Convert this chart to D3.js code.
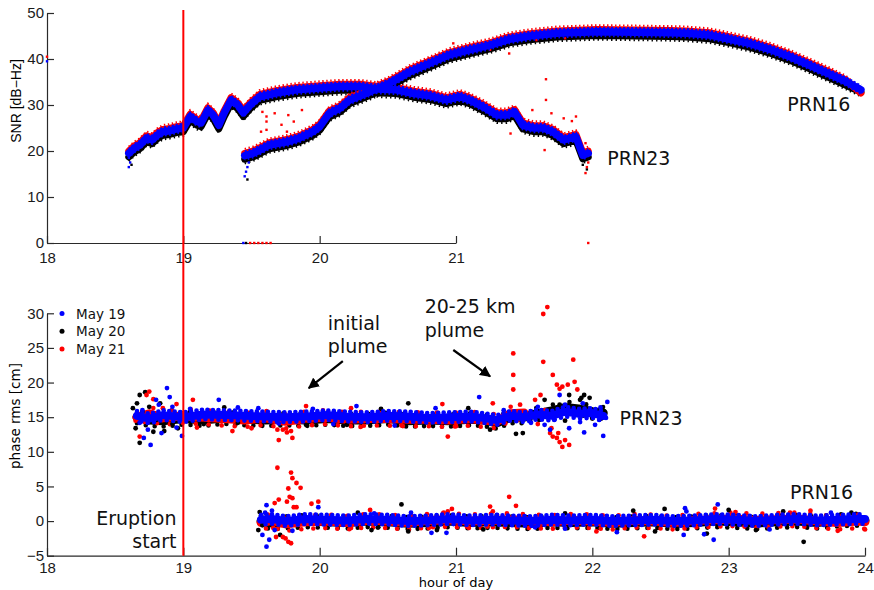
<!DOCTYPE html>
<html lang="en">
<head>
<meta charset="UTF-8">
<title>SNR and phase rms, PRN16 / PRN23</title>
<script src="https://d3js.org/d3.v7.min.js"></script>
<style>
  body { margin: 0; background: #fff; }
  .tick text { font-family: "Liberation Sans", Arial, sans-serif; font-size: 15px; fill: #1a1a1a; }
  .domain, .tick line { stroke: #2a2a2a; stroke-width: 1.2px; }
  .note { font-family: "DejaVu Sans", sans-serif; font-size: 19px; fill: #111; }
  .band { fill: none; stroke-linejoin: round; }
</style>
</head>
<body>
<svg id="chart" width="874" height="590"></svg>
<script>
// ---- top panel: SNR [dB-Hz] ----
const t23 = [18.60, 18.64, 18.68, 18.73, 18.77, 18.81, 18.85, 18.90, 18.95, 19.00, 19.05, 19.10, 19.13, 19.18, 19.22, 19.26, 19.30, 19.35, 19.40, 19.44, 19.49, 19.56, 19.68, 19.83, 20.00, 20.15, 20.30, 20.45, 20.56, 20.69, 20.81, 20.93, 21.03, 21.10, 21.20, 21.30, 21.37, 21.43, 21.49, 21.57, 21.64, 21.71, 21.79, 21.88, 21.93, 21.97];
const snr23Blue = [19.5, 20.6, 21.3, 22.8, 22.4, 23.5, 24.2, 24.4, 24.8, 25.0, 27.5, 26.4, 26.1, 28.9, 27.8, 25.6, 28.3, 31.1, 30.0, 28.3, 30.0, 31.8, 32.6, 33.3, 33.7, 34.0, 34.0, 33.4, 33.3, 32.5, 32.0, 31.1, 31.8, 31.1, 29.6, 27.8, 27.8, 28.5, 25.6, 25.0, 25.0, 24.2, 22.4, 23.1, 19.1, 19.5];
const snr23Red = [20.0, 21.1, 21.8, 23.3, 22.9, 24.0, 24.7, 24.9, 25.3, 25.5, 28.0, 26.9, 26.6, 29.4, 28.3, 26.1, 28.8, 31.6, 30.5, 28.8, 30.5, 32.3, 33.1, 33.8, 34.2, 34.5, 34.5, 33.9, 33.8, 33.0, 32.5, 31.6, 32.3, 31.6, 30.1, 28.3, 28.3, 29.0, 26.1, 25.5, 25.5, 24.7, 22.9, 23.6, 19.6, 20.0];
const snr23Black = [18.7, 19.8, 20.5, 22.0, 21.6, 22.7, 23.4, 23.6, 24.0, 24.2, 26.7, 25.6, 25.3, 28.1, 27.0, 24.8, 27.5, 30.3, 29.2, 27.5, 29.2, 31.0, 31.8, 32.5, 32.9, 33.2, 33.2, 32.6, 32.5, 31.7, 31.2, 30.3, 31.0, 30.3, 28.8, 27.0, 27.0, 27.7, 24.8, 24.2, 24.2, 23.4, 21.6, 22.3, 18.3, 18.7];

const t16 = [19.45, 19.51, 19.56, 19.63, 19.76, 19.85, 19.95, 20.00, 20.07, 20.15, 20.22, 20.37, 20.51, 20.66, 20.81, 20.95, 21.10, 21.25, 21.39, 21.54, 21.74, 22.03, 22.32, 22.57, 22.69, 22.86, 23.01, 23.15, 23.30, 23.45, 23.59, 23.74, 23.86, 23.97];
const snr16Blue = [19.0, 19.5, 20.2, 21.3, 22.0, 22.8, 24.2, 25.3, 28.2, 29.3, 31.1, 32.9, 34.7, 37.2, 39.1, 40.9, 42.0, 43.0, 44.3, 45.0, 45.6, 45.9, 45.8, 45.7, 45.6, 45.2, 44.3, 43.4, 42.1, 40.5, 38.7, 36.7, 35.1, 33.3];
const snr16Red = [19.5, 20.0, 20.7, 21.8, 22.5, 23.3, 24.7, 25.8, 28.7, 29.8, 31.6, 33.4, 35.2, 37.7, 39.6, 41.4, 42.5, 43.5, 44.8, 45.5, 46.1, 46.4, 46.3, 46.2, 46.1, 45.7, 44.8, 43.9, 42.6, 41.0, 39.2, 37.2, 35.4, 32.6];
const snr16Black = [18.2, 18.7, 19.4, 20.5, 21.2, 22.0, 23.4, 24.5, 27.4, 28.5, 30.3, 32.1, 33.9, 36.4, 38.3, 40.1, 41.2, 42.2, 43.5, 44.2, 44.8, 45.1, 45.0, 44.9, 44.8, 44.4, 43.5, 42.6, 41.3, 39.7, 37.9, 35.9, 34.3, 32.8];

const snrDotsRed = [[18.0, 40.5], [19.49, 0], [19.52, 0], [19.55, 0], [19.58, 0], [19.61, 0], [19.64, 0], [21.97, 0], [19.61, 26.4], [19.67, 28.2], [19.77, 27.8], [19.87, 28.9], [19.61, 24.6], [19.57, 24.2], [19.72, 25.7], [19.76, 24.2], [19.81, 26.4], [19.61, 27.5], [19.58, 28.5], [21.66, 35.6], [21.66, 31.1], [21.56, 28.9], [21.70, 28.2], [21.79, 27.1], [21.88, 27.5], [21.85, 26.5], [21.64, 26.0], [21.65, 20.2], [21.40, 23.8], [21.95, 21.7], [21.95, 15.2], [21.39, 41.2], [21.25, 42.0], [21.59, 44.1], [21.80, 44.5], [20.98, 43.4], [21.96, 16.5], [21.97, 17.5]];
const snrDotsBlue = [[18.0, 39.5], [19.44, 0], [19.45, 14.5], [19.46, 15.5], [19.47, 16.5], [19.48, 17.5], [18.60, 16.5], [18.61, 17.5], [18.60, 18.5]];
const snrDotsBlack = [[19.46, 0], [19.47, 13.8], [18.62, 17.0], [21.93, 17.0], [21.96, 16.0]];

// ---- bottom panel: phase rms [cm] ----
const t23b = [18.66, 18.75, 18.85, 19.0, 19.15, 19.3, 19.45, 19.6, 19.75, 19.9, 20.05, 20.2, 20.35, 20.5, 20.65, 20.8, 20.95, 21.1, 21.2, 21.3, 21.4, 21.5, 21.6, 21.7, 21.8, 21.9, 22.0, 22.08];
const ph23Blue = [15.2, 14.8, 15.3, 15.0, 15.4, 15.3, 15.2, 15.1, 15.0, 15.1, 15.3, 15.1, 15.0, 15.2, 15.1, 14.9, 15.0, 15.1, 14.9, 14.6, 15.2, 15.0, 15.4, 15.2, 15.8, 15.5, 15.6, 15.2];
const ph23Black = [15.0, 14.6, 14.5, 14.8, 14.6, 14.9, 14.7, 14.6, 14.7, 14.6, 14.8, 14.6, 14.6, 14.8, 14.5, 14.6, 14.5, 14.7, 14.6, 14.2, 15.0, 15.0, 15.5, 15.9, 16.4, 16.2, 15.8, 15.6];
const ph23Red = [15.0, 15.5, 14.9, 15.2, 15.0, 14.8, 14.6, 14.9, 14.4, 14.8, 15.0, 14.7, 14.8, 14.8, 14.7, 14.7, 14.6, 14.8, 14.6, 14.4, 15.5, 15.6];

const t16b = [19.57, 19.65, 19.75, 19.9, 20.05, 20.2, 20.35, 20.5, 20.65, 20.8, 20.95, 21.1, 21.25, 21.4, 21.55, 21.7, 21.85, 22.0, 22.15, 22.3, 22.45, 22.6, 22.75, 22.9, 23.05, 23.2, 23.35, 23.5, 23.65, 23.8, 23.95, 24.0];
const ph16Blue = [0.2, 0.3, 0.0, 0.3, 0.2, 0.1, 0.3, 0.2, 0.0, 0.1, 0.3, 0.1, 0.2, 0.1, 0.0, 0.2, 0.1, 0.2, 0.0, 0.1, 0.2, 0.0, 0.1, 0.3, 0.2, 0.0, 0.2, 0.3, 0.1, 0.2, 0.3, 0.3];
const ph16Black = [0.0, -0.3, -0.2, 0.0, -0.1, -0.2, 0.0, -0.1, -0.3, -0.2, 0.0, -0.2, -0.1, -0.2, -0.3, -0.1, -0.2, -0.1, -0.3, -0.2, -0.1, -0.3, -0.2, 0.0, -0.1, -0.3, -0.1, 0.0, -0.2, 0.1, 0.2, 0.1];
const ph16Red = [-0.2, 0.1, -0.4, -0.1, 0.0, -0.2, 0.1, 0.0, -0.2, 0.1, 0.2, 0.0, 0.1, 0.2, 0.0, -0.1, 0.1, 0.0, -0.2, 0.1, 0.0, -0.2, 0.1, 0.2, 0.3, 0.1, 0.2, 0.3, 0.0, -0.2, 0.0, -0.1];

const phDotsBlue = [[18.88, 19.2], [18.90, 17.9], [18.76, 11.0], [18.71, 12.0], [18.84, 12.7], [18.99, 12.3], [19.26, 17.5], [18.80, 17.5], [18.95, 13.5], [18.68, 14.2], [18.74, 13.2], [18.82, 16.8], [18.70, 16.0], [18.92, 16.5], [19.05, 16.2], [19.40, 16.4], [19.55, 16.3], [19.95, 16.2],
  [20.27, 16.6], [21.17, 17.9], [20.55, 13.8], [20.85, 16.3], [21.35, 16.0], [20.1, 14.0], [19.7, 14.1],
  [22.11, 17.2], [22.08, 12.3], [21.94, 12.8], [21.80, 16.8], [21.87, 15.3], [21.98, 16.0], [22.05, 14.6], [22.02, 13.9], [21.72, 14.6], [21.65, 13.9], [21.76, 18.2], [22.04, 15.5], [22.10, 14.9], [21.83, 13.4], [21.91, 14.3], [21.69, 13.2], [21.60, 16.5], [21.55, 14.2], [21.93, 17.0], [22.06, 16.4],
  [19.61, -3.7], [19.61, 2.3], [19.58, -2.0], [19.63, -2.7], [19.67, -1.3], [19.60, 1.2], [19.65, 1.5], [19.99, 2.0], [20.67, 1.2], [20.82, -1.7], [20.93, -1.7], [21.30, 0.9], [21.58, -0.9], [22.18, -1.6], [22.67, -2.0], [22.68, 1.85], [22.69, 1.4], [22.82, -1.9], [22.89, -2.7], [22.92, 2.4], [23.3, -1.2], [23.75, 1.2], [21.8, -1.1], [20.4, 1.1], [19.8, -1.4]];
const phDotsBlack = [[18.66, 17.0], [18.65, 13.4], [18.68, 11.3], [18.72, 18.6], [18.80, 14.6], [18.70, 15.8], [18.75, 16.5], [18.86, 13.0], [18.92, 14.0], [18.63, 16.3], [18.78, 12.9], [19.05, 15.8], [19.15, 14.0], [19.30, 16.4], [19.40, 14.2], [18.68, 18.2], [18.83, 17.0], [18.96, 13.4],
  [20.65, 17.0], [21.09, 16.3], [21.44, 12.6], [21.49, 12.7], [21.25, 13.2], [20.2, 13.9], [19.9, 13.9], [20.45, 16.2],
  [21.98, 17.8], [21.91, 17.5], [21.83, 18.2], [21.94, 18.2], [21.76, 16.8], [21.65, 17.5], [21.87, 16.3], [21.61, 14.6], [22.05, 16.0], [21.92, 17.8], [21.72, 16.2], [21.80, 14.5], [22.0, 14.8], [21.55, 15.8],
  [19.55, -1.3], [19.56, 1.3], [19.58, -0.6], [19.62, 0.4], [19.71, -2.0], [19.57, 0.8], [20.28, 1.2], [20.38, -1.3], [20.43, -0.9], [20.60, 2.4], [20.65, -1.5], [20.86, -1.3], [21.8, 1.1], [22.30, 1.5], [22.46, -1.5], [22.53, 1.75], [22.84, -1.8], [23.0, 1.6], [23.40, 1.4], [23.55, -3.0], [23.9, 1.2], [23.2, -1.3], [21.2, -1.2]];
const phDotsRed = [[18.75, 18.7], [18.73, 18.2], [18.68, 12.2], [18.70, 15.0], [18.65, 14.5], [19.07, 17.5], [18.85, 16.3], [18.95, 16.9], [19.10, 13.5], [18.78, 17.6],
  [19.50, 13.4], [19.69, 13.2], [19.70, 11.7], [19.73, 13.2], [19.79, 13.0], [19.80, 12.0], [19.76, 12.8], [19.36, 13.0], [19.90, 16.6], [20.23, 16.3], [20.30, 13.6], [20.90, 16.9], [20.94, 12.2], [21.27, 17.0], [21.0, 13.7], [20.6, 13.8],
  [21.64, 29.9], [21.67, 30.9], [21.42, 24.2], [21.42, 21.1], [21.42, 19.0], [21.64, 23.0], [21.86, 23.3], [21.71, 21.1], [21.87, 20.1], [21.74, 19.7], [21.78, 19.4], [21.82, 19.7], [21.89, 19.0], [21.76, 19.1], [21.69, 12.7], [21.71, 12.2], [21.74, 12.0], [21.76, 11.4], [21.78, 10.7], [21.70, 13.4], [21.75, 12.7], [21.80, 11.7], [21.83, 11.0], [21.62, 18.2], [21.58, 17.5], [21.65, 16.0], [21.47, 16.8], [21.55, 15.2], [21.6, 14.0],
  [19.69, 7.7], [19.79, 7.0], [19.80, 6.2], [19.77, 4.7], [19.83, 5.5], [19.86, 4.8], [19.70, 3.1], [19.67, 2.6], [19.78, 3.5], [19.80, 3.3], [19.81, 2.0], [19.83, 2.0], [19.76, 2.8], [19.73, -2.3], [19.75, -2.5], [19.77, -3.0], [19.79, -3.2], [19.68, -2.3], [19.66, -1.0], [19.99, 2.8], [19.94, 2.5], [20.23, -1.0], [20.37, 1.6], [20.80, -1.0], [20.91, 1.2], [20.94, 1.4], [20.97, 1.75], [21.08, -0.8], [21.23, -0.8], [21.25, 2.1], [21.27, 1.4], [21.39, 3.5], [21.44, 2.2], [22.03, -1.5], [22.38, -2.2], [22.9, 1.8], [23.05, 1.3], [23.45, 1.2], [23.6, 1.5], [23.8, -1.4], [24.0, -1.2]];

const legendLabels = ["May 19", "May 20", "May 21"];
const dayColors = ["#0000ff", "#000000", "#ff0000"];
const snrTicks = [0, 10, 20, 30, 40, 50];
const phaseTicks = [-5, 0, 5, 10, 15, 20, 25, 30];
const eruptionHour = 19;

const BLUE = "#0000ff", RED = "#ff0000", BLACK = "#000000";
const svg = d3.select("#chart");

const x = d3.scaleLinear().domain([18, 24]).range([47, 865]);
const xTop = d3.scaleLinear().domain([18, 21]).range([47, x(21)]);
const ySnr = d3.scaleLinear().domain([0, 50]).range([243, 13]);
const yPh = d3.scaleLinear().domain([-5, 30]).range([555.7, 313.3]);

// axes (matlab style: inward ticks, only left/bottom)
svg.append("g").attr("transform", "translate(0,243)")
  .call(d3.axisBottom(xTop).tickValues([18, 19, 20, 21]).tickFormat(d3.format("d"))
    .tickSizeInner(-7).tickSizeOuter(0).tickPadding(9));
svg.append("g").attr("transform", "translate(47,0)")
  .call(d3.axisLeft(ySnr).tickValues(snrTicks).tickSizeInner(-7).tickSizeOuter(0).tickPadding(3));

svg.append("g").attr("transform", "translate(0,555.7)")
  .call(d3.axisBottom(x).tickValues(d3.range(18, 25)).tickFormat(d3.format("d"))
    .tickSizeInner(-8).tickSizeOuter(0).tickPadding(7));
svg.append("g").attr("transform", "translate(47,0)")
  .call(d3.axisLeft(yPh).tickValues(phaseTicks).tickSizeInner(-7).tickSizeOuter(0).tickPadding(3));

// axis titles
svg.append("text")
  .attr("transform", "translate(21,101) rotate(-90)")
  .attr("text-anchor", "middle")
  .style("font-family", "'Liberation Sans', Arial, sans-serif").style("font-size", "14px")
  .text("SNR [dB\u2212Hz]");
svg.append("text")
  .attr("transform", "translate(20,416) rotate(-90)")
  .attr("text-anchor", "middle")
  .style("font-family", "'DejaVu Sans', sans-serif").style("font-size", "13.5px")
  .text("phase rms [cm]");
svg.append("text")
  .attr("x", x(21)).attr("y", 587)
  .attr("text-anchor", "middle")
  .style("font-family", "'DejaVu Sans', sans-serif").style("font-size", "13px")
  .text("hour of day");

// a band = thick polyline; dy/dash give the dotty fringe of the scatter cloud
function band(times, vals, yScale, color, width, opts) {
  const o = opts || {};
  const line = d3.line().x((d, i) => x(times[i])).y(d => yScale(d));
  svg.append("path").datum(vals).attr("class", "band")
    .attr("d", line).attr("stroke", color).attr("stroke-width", width)
    .attr("transform", `translate(0,${o.dy || 0})`)
    .attr("stroke-dasharray", o.dash || null)
    .attr("stroke-dashoffset", o.off || 0)
    .attr("stroke-linecap", o.cap || "round");
}

function squares(pts, yScale, color) {
  svg.append("g").selectAll("rect").data(pts).join("rect")
    .attr("x", d => x(d[0]) - 1.2).attr("y", d => yScale(d[1]) - 1.2)
    .attr("width", 2.4).attr("height", 2.4).attr("fill", color);
}

function dots(pts, yScale, color) {
  svg.append("g").selectAll("circle").data(pts).join("circle")
    .attr("cx", d => x(d[0])).attr("cy", d => yScale(d[1]))
    .attr("r", 2.4).attr("fill", color);
}

// ---- top panel ----
[[t23, snr23Black, snr23Red], [t16, snr16Black, snr16Red]].forEach(([t, k, r]) => {
  band(t, k, ySnr, BLACK, 7);
  band(t, k, ySnr, BLACK, 2, { dy: 4.2, dash: "1.4 3.1", cap: "butt" });
  band(t, r, ySnr, RED, 7);
  band(t, r, ySnr, RED, 2, { dy: -4.4, dash: "1.4 2.6", cap: "butt" });
});
squares(snrDotsBlack, ySnr, BLACK);
squares(snrDotsRed, ySnr, RED);
[[t23, snr23Blue], [t16, snr16Blue]].forEach(([t, b]) => {
  band(t, b, ySnr, BLUE, 7.5);
  band(t, b, ySnr, BLUE, 2, { dy: -4.2, dash: "2.2 1.8", cap: "butt" });
  band(t, b, ySnr, BLUE, 2, { dy: 4.2, dash: "1.6 2.6", off: 1, cap: "butt" });
});
squares(snrDotsBlue, ySnr, BLUE);

// ---- bottom panel ----
band(t23b, ph23Black, yPh, BLACK, 9);
band(t16b, ph16Black, yPh, BLACK, 9);
band(t23b, ph23Black, yPh, BLACK, 4.6, { dy: 6, dash: "0 9" });
band(t16b, ph16Black, yPh, BLACK, 4.6, { dy: 6, dash: "0 10", off: 3 });
band(t23b, ph23Black, yPh, BLACK, 4.6, { dy: -6, dash: "0 17", off: 6 });
band(t16b, ph16Black, yPh, BLACK, 4.6, { dy: -6, dash: "0 15", off: 4 });
band(t23b.slice(0, ph23Red.length), ph23Red, yPh, RED, 9);
band(t16b, ph16Red, yPh, RED, 9);
band(t23b.slice(0, ph23Red.length), ph23Red, yPh, RED, 4.6, { dy: 7, dash: "0 13", off: 5 });
band(t16b, ph16Red, yPh, RED, 4.6, { dy: 7, dash: "0 12", off: 7 });
band(t23b.slice(0, ph23Red.length), ph23Red, yPh, RED, 4.6, { dy: -7, dash: "0 19", off: 2 });
band(t16b, ph16Red, yPh, RED, 4.6, { dy: -6.5, dash: "0 16", off: 9 });
dots(phDotsBlack, yPh, BLACK);
dots(phDotsRed, yPh, RED);
[[t23b, ph23Blue], [t16b, ph16Blue]].forEach(([t, b]) => {
  band(t, b, yPh, BLUE, 8);
  band(t, b, yPh, BLUE, 4.6, { dy: -4.8, dash: "0 5.5" });
  band(t, b, yPh, BLUE, 4.6, { dy: 4.8, dash: "0 6.5", off: 2 });
});
dots(phDotsBlue, yPh, BLUE);

// eruption line
svg.append("line")
  .attr("x1", x(eruptionHour)).attr("x2", x(eruptionHour))
  .attr("y1", 10).attr("y2", yPh(-5))
  .attr("stroke", RED).attr("stroke-width", 2);

// legend
const lg = svg.append("g");
legendLabels.forEach((lab, i) => {
  const yy = 313.5 + i * 17.8;
  lg.append("circle").attr("cx", 62).attr("cy", yy).attr("r", 2.5).attr("fill", dayColors[i]);
  lg.append("text").attr("x", 76).attr("y", yy + 5)
    .style("font-family", "'DejaVu Sans', sans-serif").style("font-size", "13.5px").attr("fill", "#111")
    .text(lab);
});

// annotations
function note(t, v, yScale, lines, anchor) {
  lines.forEach((s, i) => {
    svg.append("text").attr("class", "note")
      .attr("x", x(t)).attr("y", yScale(v) + i * 23.5)
      .attr("text-anchor", anchor || "start").text(s);
  });
}
note(23.43, 28.7, ySnr, ["PRN16"]);
note(22.11, 17.0, ySnr, ["PRN23"]);
note(22.20, 13.9, yPh, ["PRN23"]);
note(23.45, 3.2, yPh, ["PRN16"]);
note(18.95, -0.56, yPh, ["Eruption", "start"], "end");
note(20.06, 27.6, yPh, ["initial", "plume"]);
note(20.77, 30.0, yPh, ["20-25 km", "plume"]);

svg.append("defs").append("marker")
  .attr("id", "head").attr("viewBox", "0 0 10 10").attr("refX", 9).attr("refY", 5)
  .attr("markerWidth", 5).attr("markerHeight", 5).attr("orient", "auto")
  .append("path").attr("d", "M0,0 L10,5 L0,10 Z").attr("fill", "#000");

function arrow(t1, v1, t2, v2) {
  svg.append("line")
    .attr("x1", x(t1)).attr("y1", yPh(v1)).attr("x2", x(t2)).attr("y2", yPh(v2))
    .attr("stroke", "#000").attr("stroke-width", 2.2).attr("marker-end", "url(#head)");
}
arrow(20.17, 23.1, 19.92, 19.2);
arrow(20.98, 24.7, 21.25, 20.9);
</script>
</body>
</html>
